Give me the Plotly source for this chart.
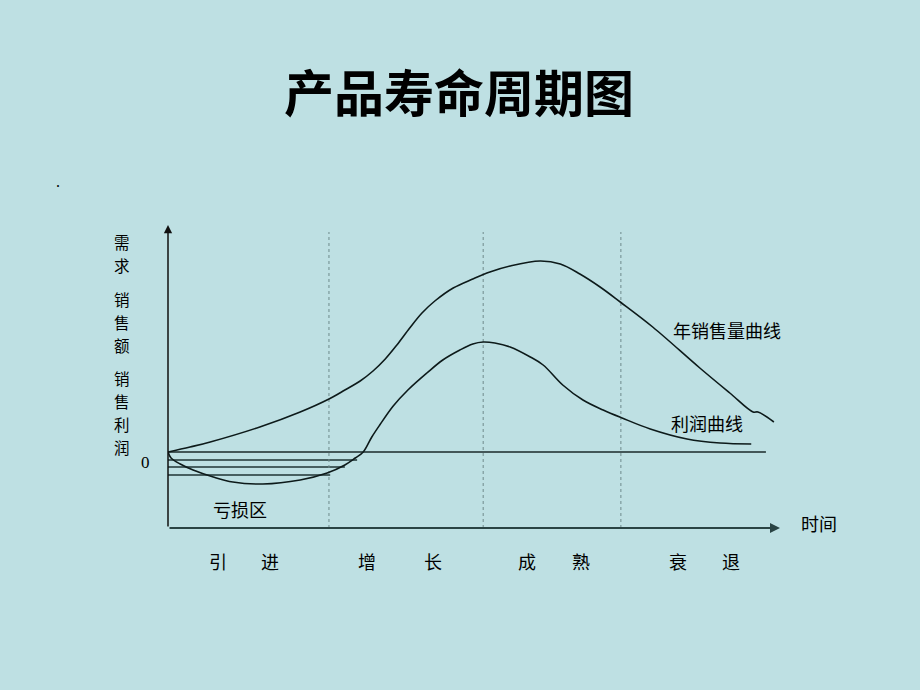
import plotly.graph_objects as go

# ---------------- data ----------------
# time axis 0..100 (arbitrary units), value axis: 0 = break-even
sales_t = [0, 3.6, 6.9, 15.0, 21.6, 26.3, 28.9, 31.4, 33.5, 35.5, 37.4, 39.5, 41.5, 43.6, 46.6, 49.8, 52.6,
           55.9, 60.8, 64.1, 67.3, 70.6, 73.9, 79.2, 86.9, 91.8, 95.6, 96.4, 99.0]
sales_v = [0, 2.5, 5, 12.5, 20, 26.5, 31, 35.5, 40.5, 46.5, 53.5, 62, 69.5, 75.5, 82, 86.5, 90,
           93, 95.5, 94, 89, 82.5, 75, 62.5, 42, 29.5, 20, 20, 15]

profit_t = [0, 0.5, 2.0, 4.1, 7.4, 10.6, 15.5, 21.6, 26.0, 28.9, 30.6, 31.9, 33.3, 34.6, 36.8, 39.2,
            42.3, 44.9, 47.7, 49.8, 51.5, 53.4, 55.9, 59.2, 61.3, 64.5, 67.8, 71.1, 74.2, 78.8, 84.8, 90.2, 95.3]
profit_v = [0, -3, -6, -9, -12.5, -15, -16, -14, -10.5, -6.5, -3, 0, 7.5, 13.5, 23, 31,
            39.5, 46, 51, 54, 55, 54.5, 52.5, 47.5, 43.5, 33.5, 26, 21, 17, 11.5, 6.5, 4.5, 4]

# loss-zone hatch lines: value level and end time
hatch_v = [-4, -7.5, -11.5]
hatch_end = [30.9, 28.9, 26.5]

zero_end = 97.7
stage_bounds = [26.3, 51.5, 74.0]

title = "产品寿命周期图"
y_label_chars = ["需", "求", "销", "售", "额", "销", "售", "利", "润"]
stage_chars = ["引", "进", "增", "长", "成", "熟", "衰", "退"]
sales_label = "年销售量曲线"
profit_label = "利润曲线"
loss_label = "亏损区"
time_label = "时间"

# ---------------- layout helpers ----------------
W, H = 920, 690
L, R, T, B = 168, 780, 225, 528
XR = [0, 100]
YR = [-38, 113.5]

def py2y(py):
    return YR[0] + (B - py) / (B - T) * (YR[1] - YR[0])

def px_paper(px):
    return (px - L) / (R - L)

def py_paper(py):
    return (B - py) / (B - T)

bg = "rgb(190,224,227)"
cjk = "Noto Sans CJK SC"

fig = go.Figure()

# zero line
fig.add_trace(go.Scatter(x=[0, zero_end], y=[0, 0], mode="lines",
                         line=dict(color="#1a2a2a", width=1.3), hoverinfo="skip"))
# hatch lines
for v, e in zip(hatch_v, hatch_end):
    fig.add_trace(go.Scatter(x=[0, e], y=[v, v], mode="lines",
                             line=dict(color="#1f3535", width=1.6), hoverinfo="skip"))
# stage boundaries
for b in stage_bounds:
    fig.add_trace(go.Scatter(x=[b, b], y=[YR[0], py2y(232)], mode="lines",
                             line=dict(color="#6f8a8c", width=1, dash="dot"), hoverinfo="skip"))
# curves
fig.add_trace(go.Scatter(x=sales_t, y=sales_v, mode="lines",
                         line=dict(color="#0d1a1a", width=1.6, shape="spline", smoothing=1.0),
                         name="年销售量曲线"))
fig.add_trace(go.Scatter(x=profit_t, y=profit_v, mode="lines",
                         line=dict(color="#0d1a1a", width=1.6, shape="spline", smoothing=1.0),
                         name="利润曲线"))

ann = []
# axes with arrows
ann.append(dict(x=XR[0], y=YR[1], ax=XR[0], ay=YR[0], xref="x", yref="y", axref="x", ayref="y",
                text="", showarrow=True, arrowhead=2, arrowsize=1.1, arrowwidth=1.5, arrowcolor="#111"))
ann.append(dict(x=XR[1], y=YR[0], ax=XR[0], ay=YR[0], xref="x", yref="y", axref="x", ayref="y",
                text="", showarrow=True, arrowhead=2, arrowsize=1.0, arrowwidth=2, arrowcolor="#2a4444"))

def label(px, py, text, size=18, family=cjk):
    ann.append(dict(x=px_paper(px), y=py_paper(py), xref="paper", yref="paper", text=text,
                    showarrow=False, xanchor="center", yanchor="middle", borderpad=0,
                    font=dict(family=family, size=size, color="#000")))

label(459, 90, "<b>" + title + "</b>", size=50)
label(58, 181, ".", size=16, family="Liberation Serif")
y_char_pos = [242, 265, 299, 322, 345, 378, 401, 424, 447]
for ch, py in zip(y_label_chars, y_char_pos):
    label(122, py, ch, size=15.5)
label(145, 462, "0", size=17, family="Liberation Serif")
stage_pos = [218, 270, 367, 433, 527, 581, 678, 731]
for ch, px in zip(stage_chars, stage_pos):
    label(px, 561, ch, size=18)
label(727, 330, sales_label)
label(707, 423, profit_label)
label(240, 509, loss_label)
label(819, 523, time_label)

fig.update_layout(
    width=W, height=H,
    margin=dict(l=L, r=W - R, t=T, b=H - B),
    paper_bgcolor=bg, plot_bgcolor=bg,
    showlegend=False,
    xaxis=dict(range=XR, visible=False, fixedrange=True),
    yaxis=dict(range=YR, visible=False, fixedrange=True),
    annotations=ann,
)

fig.write_html("out.html", config={"displayModeBar": False},
               post_script="document.body.style.margin='0';document.body.style.background='rgb(190,224,227)';")
